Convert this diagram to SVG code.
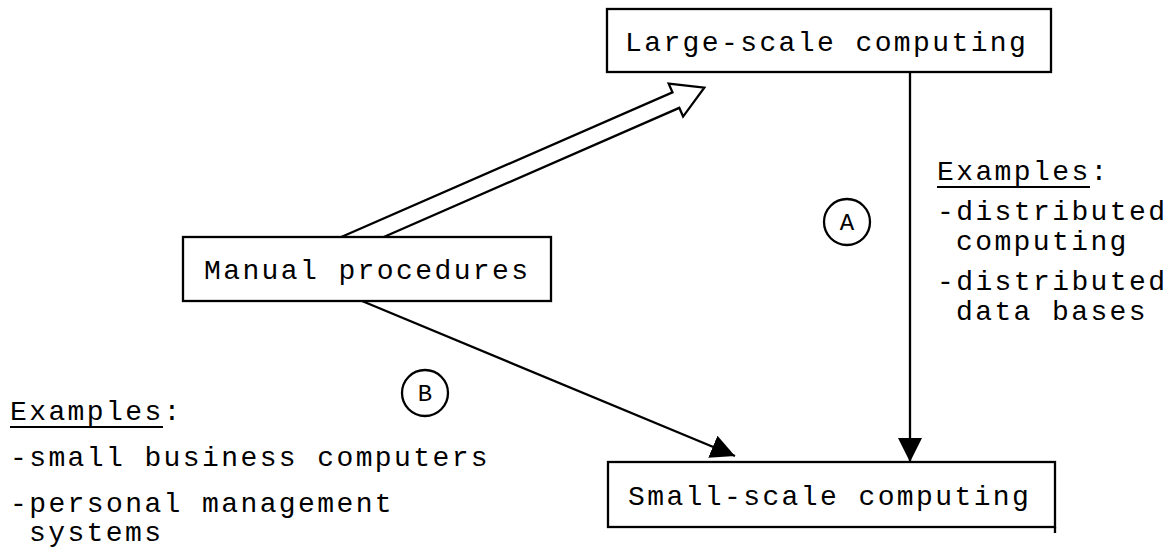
<svg xmlns="http://www.w3.org/2000/svg" width="1175" height="560" viewBox="0 0 1175 560">
  <defs>
    <style>
      .box { fill: #ffffff; stroke: #000000; stroke-width: 2.3; }
      .lbl { font-family: "Liberation Mono", "Courier New", monospace; font-size: 28px; letter-spacing: 2.4px; fill: #000000; }
      .tag { font-family: "Liberation Mono", "Courier New", monospace; font-size: 24px; fill: #000000; text-anchor: middle; }
      .ring { fill: none; stroke: #000000; stroke-width: 2.3; }
      .wire { fill: none; stroke: #000000; stroke-width: 2.3; }
      .rule { stroke: #000000; stroke-width: 1.8; }
    </style>
    <marker id="solid" viewBox="0 0 24 24" refX="24" refY="12" markerWidth="24" markerHeight="24" markerUnits="userSpaceOnUse" orient="auto">
      <path d="M0,0 L24,12 L0,24 Z" fill="#000000"/>
    </marker>
  </defs>
  <rect width="1175" height="560" fill="#ffffff"/>

  <!-- connectors -->
  <g id="connectors">
    <!-- hollow double-line arrow: manual procedures to large-scale computing -->
    <polyline class="wire" transform="translate(362.5,237) rotate(-23.6)"
      points="-19.5,-8.5 342,-8.5 342,-18 373,0 342,18 342,8.5 19.5,8.5"/>
    <!-- path A: large-scale down to small-scale -->
    <line class="wire" x1="910" y1="72" x2="910" y2="462" marker-end="url(#solid)"/>
    <!-- path B: manual procedures to small-scale -->
    <line class="wire" x1="362" y1="301" x2="735" y2="456" marker-end="url(#solid)"/>
  </g>

  <g id="node-large">
    <rect class="box" x="607" y="9" width="444" height="63"/>
    <text class="lbl" x="625" y="51">Large-scale computing</text>
  </g>

  <g id="node-manual">
    <rect class="box" x="183" y="237" width="368" height="64"/>
    <text class="lbl" x="204" y="279">Manual procedures</text>
  </g>

  <g id="node-small">
    <rect class="box" x="608" y="462" width="447" height="65"/>
    <!-- right edge runs a little past the bottom corner -->
    <line class="wire" x1="1055" y1="527" x2="1055" y2="533"/>
    <text class="lbl" x="628" y="505">Small-scale computing</text>
  </g>

  <g id="marker-a">
    <circle class="ring" cx="847" cy="222" r="23"/>
    <text class="tag" x="847" y="230">A</text>
  </g>

  <g id="marker-b">
    <circle class="ring" cx="425" cy="393" r="23"/>
    <text class="tag" x="425" y="401">B</text>
  </g>

  <g id="examples-a">
    <text class="lbl" x="937" y="180">Examples:</text>
    <line class="rule" x1="937" y1="187" x2="1090" y2="187"/>
    <text class="lbl" x="937" y="220">-distributed</text>
    <text class="lbl" x="956" y="250">computing</text>
    <text class="lbl" x="937" y="290">-distributed</text>
    <text class="lbl" x="956" y="320">data bases</text>
  </g>

  <g id="examples-b">
    <text class="lbl" x="10" y="420">Examples:</text>
    <line class="rule" x1="10" y1="427" x2="163" y2="427"/>
    <text class="lbl" x="10" y="466">-small business computers</text>
    <text class="lbl" x="10" y="512">-personal management</text>
    <text class="lbl" x="29" y="541">systems</text>
  </g>
</svg>
